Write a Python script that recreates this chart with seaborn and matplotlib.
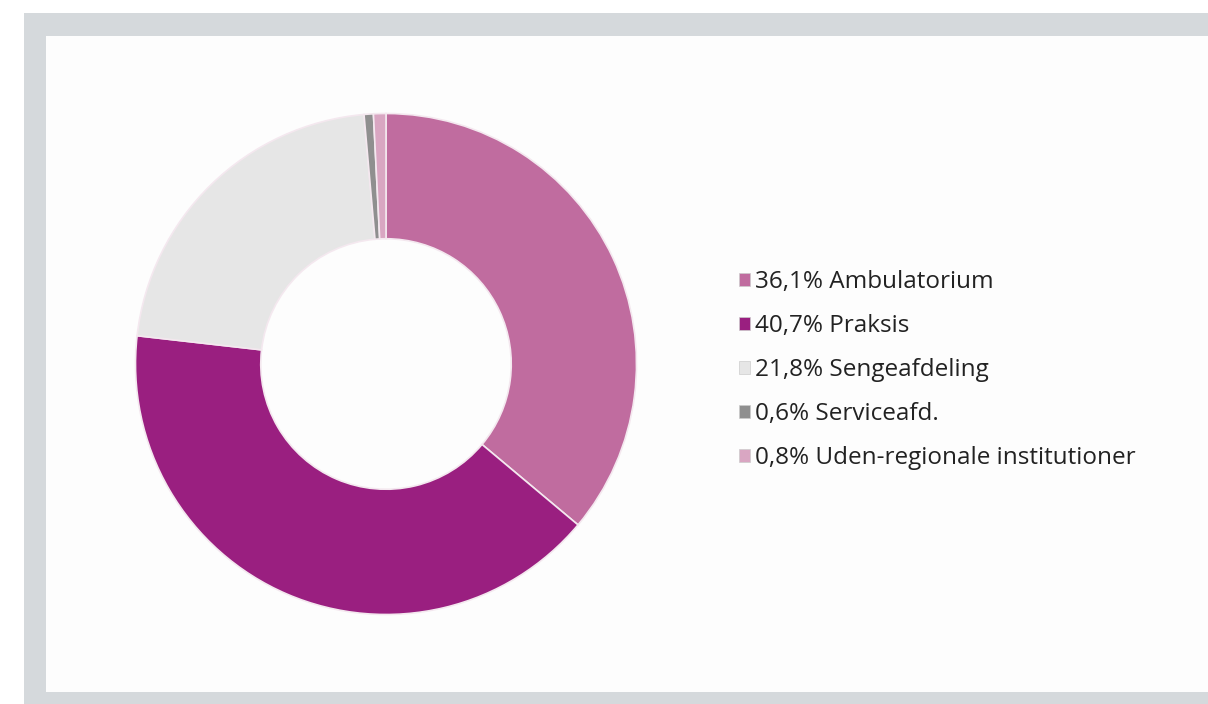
import matplotlib
matplotlib.use("Agg")
import matplotlib.pyplot as plt
from matplotlib.patches import Rectangle
import seaborn as sns

# Share of activity by unit (percent)
categories = ["Ambulatorium", "Praksis", "Sengeafdeling", "Serviceafd.",
              "Uden-regionale institutioner"]
shares = [36.1, 40.7, 21.8, 0.6, 0.8]
colors = ["#c06c9f", "#9a1f80", "#e6e6e6", "#8f8f8f", "#d9a6c2"]

sns.set_theme(style="white")
plt.rcParams["font.family"] = ["Open Sans", "DejaVu Sans"]

W, H = 1208, 704
fig = plt.figure(figsize=(W / 100, H / 100), dpi=100)
fig.patch.set_facecolor("white")

# Grey frame with a white panel inside
fig.patches.append(Rectangle((24 / W, 0), 1 - 24 / W, 1 - 13 / H,
                             transform=fig.transFigure, facecolor="#d5d9dc",
                             edgecolor="none", zorder=-2))
fig.patches.append(Rectangle((46 / W, 12 / H), 1 - 46 / W, (692 - 36) / H,
                             transform=fig.transFigure, facecolor="#fdfdfd",
                             edgecolor="none", zorder=-1))

# Donut axes
cx, cy, r = 386, 364, 253
ax = fig.add_axes([(cx - r) / W, (H - cy - r) / H, 2 * r / W, 2 * r / H])
ax.set_facecolor("none")
ax.set_zorder(1)
wedges, _ = ax.pie(shares, colors=colors, startangle=90, counterclock=False,
                   radius=1.0,
                   wedgeprops=dict(width=0.5, edgecolor="#f4e8ef",
                                   linewidth=1.2))
ax.set_xlim(-1.01, 1.01)
ax.set_ylim(-1.01, 1.01)
ax.set_aspect("equal")
ax.axis("off")

labels = [f"{v:.1f}".replace(".", ",") + f"% {c}" for v, c in zip(shares, categories)]
leg = fig.legend(wedges, labels, loc="upper left",
                 bbox_to_anchor=(739 / W, 1 - 270 / H),
                 frameon=False, fontsize=17.5, handlelength=0.45,
                 handleheight=0.45, handletextpad=0.2, labelspacing=0.82,
                 borderaxespad=0, borderpad=0)
leg.set_zorder(2)
for t in leg.get_texts():
    t.set_color("#222222")
for h in leg.legend_handles:
    h.set_edgecolor("#cccccc")
    h.set_linewidth(0.5)

fig.savefig("out.png", dpi=100, facecolor=fig.get_facecolor())
